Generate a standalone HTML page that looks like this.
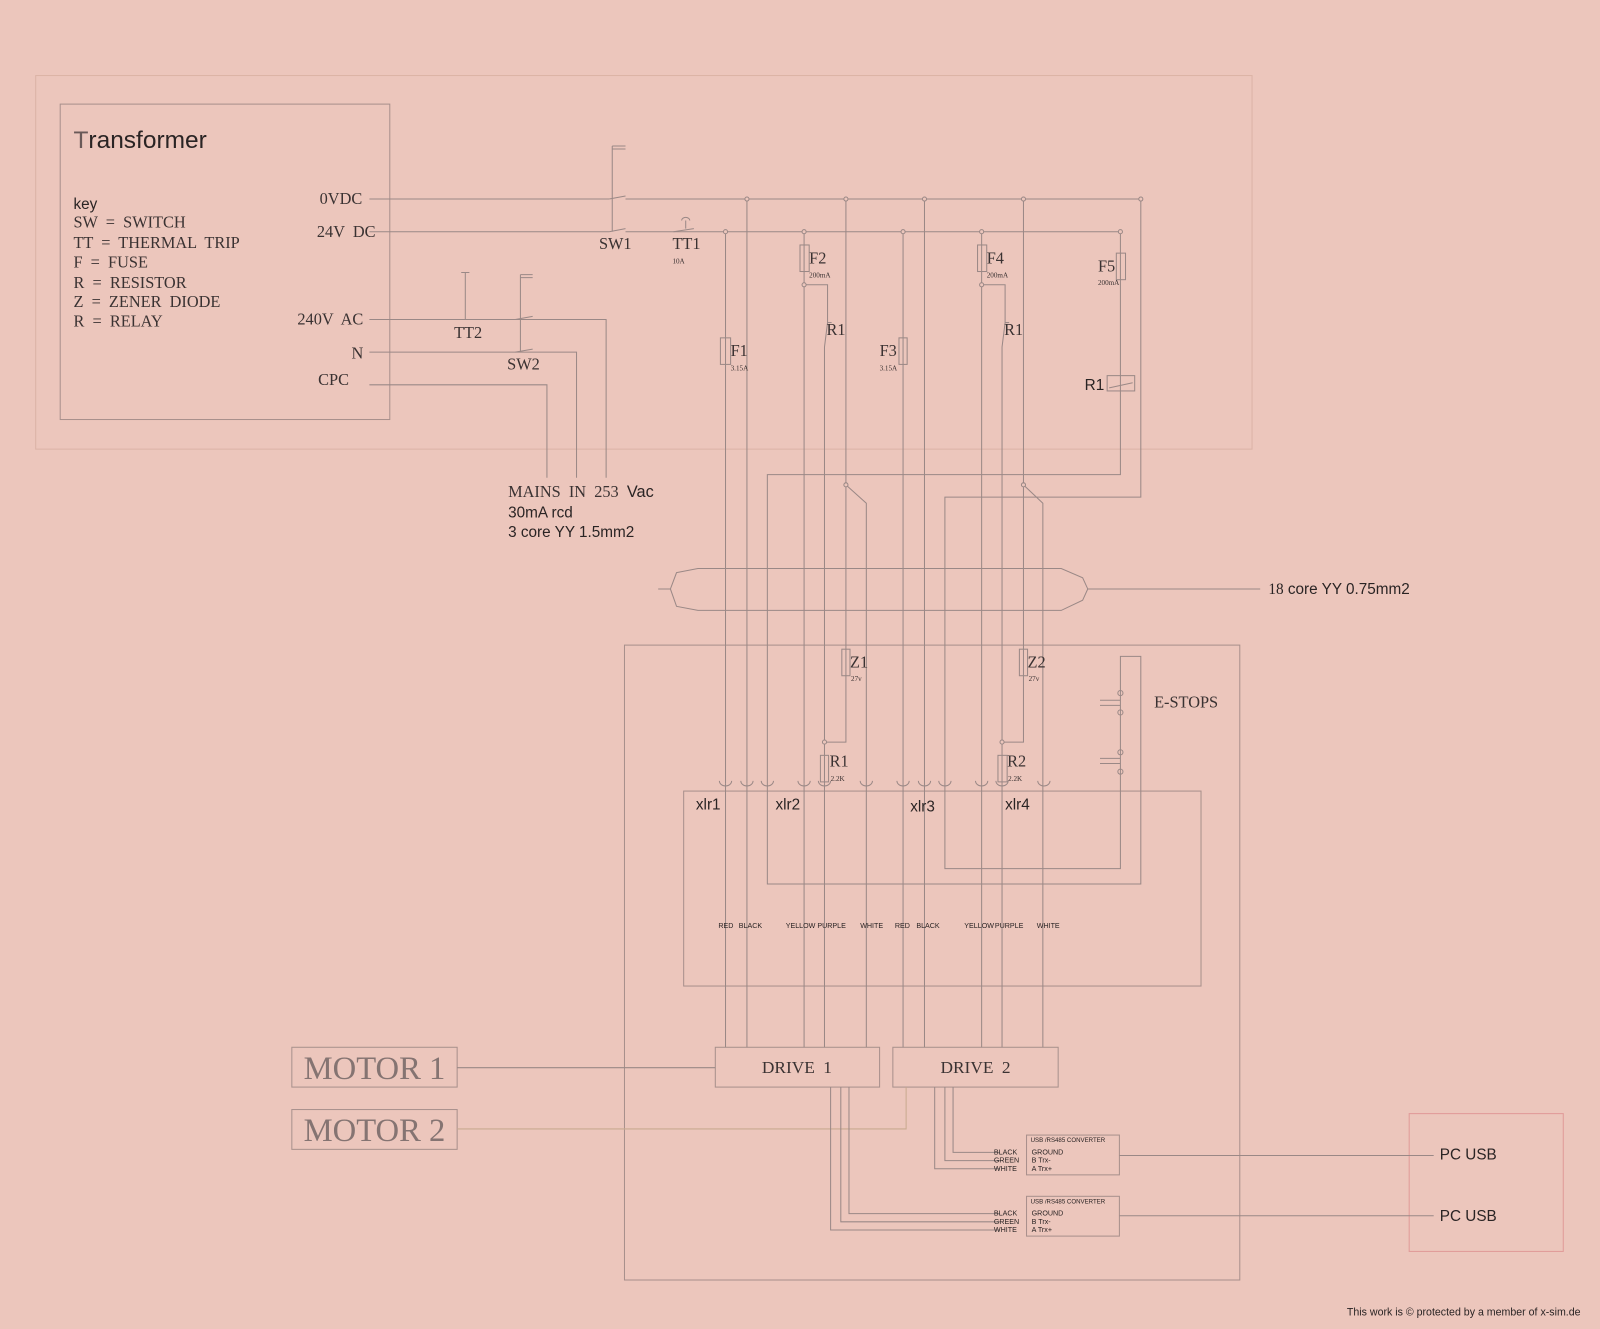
<!DOCTYPE html>
<html><head><meta charset="utf-8"><style>
html,body{margin:0;padding:0;background:#ecc6bc;}
svg{display:block}
.s{font-family:"Liberation Serif",serif;fill:#3a3232}
.a{font-family:"Liberation Sans",sans-serif;fill:#2a2424}
</style></head><body>
<svg width="1600" height="1329" viewBox="0 0 1568 1302" preserveAspectRatio="none" xmlns="http://www.w3.org/2000/svg">
<rect width="1568" height="1302" fill="#ecc6bc"/>
<g fill="none" stroke="#dbb3a6" stroke-width="1">
<rect x="35" y="74" width="1192" height="366"/>
</g>
<g fill="none" stroke="#a8908c" stroke-width="1">
<rect x="59" y="102" width="323" height="309"/>
<rect x="612" y="632" width="603" height="622"/>
<rect x="670" y="775" width="507" height="191"/>
<rect x="701" y="1026" width="161" height="39"/>
<rect x="875" y="1026" width="162" height="39"/>
<rect x="286" y="1026" width="162" height="39"/>
<rect x="286" y="1087" width="162" height="39"/>
<rect x="1006" y="1112" width="91" height="39"/>
<rect x="1006" y="1172" width="91" height="39"/>
</g>
<rect x="1381" y="1091" width="151" height="135" fill="none" stroke="#e09a98"/>
<g fill="none" stroke="#9a8886" stroke-width="1">
<path d="M362 195H597 M613 195H1118 M362 227H597 M613 227H1098"/>
<path d="M600 143V227 M600 143H613 M600 146H613 M597 195L613 192 M597 227L613 224"/>
<path d="M668 216a4 3 0 0 1 8 0 M672 216V224 M660 227L680 224"/>
<path d="M362 313H594V468 M362 345H565V468 M362 377H536V468"/>
<path d="M456 267V313 M452 267H460 M510 269V345 M510 269H522 M510 272H522 M505 313L522 310 M505 345L522 342"/>
<path d="M711 227V768 M732 195V768"/>
<rect x="706" y="331" width="10" height="26"/>
<path d="M788 227V768"/>
<rect x="784" y="240" width="9" height="26"/>
<path d="M788 279H811V316L808 340V768"/>
<path d="M811 316H815"/>
<path d="M829 195V727H808 M829 475L849 493V1026"/>
<rect x="825" y="636" width="8" height="26"/>
<rect x="804" y="740" width="8" height="26"/>
<path d="M885 227V1026 M906 195V1026"/>
<rect x="881" y="331" width="8" height="26"/>
<path d="M962 227V1026"/>
<rect x="958" y="240" width="9" height="26"/>
<path d="M962 279H985V316L982 340V1026 M985 316H989"/>
<path d="M1003 195V727H982 M1003 475L1022 493V1026"/>
<rect x="999" y="636" width="8" height="26"/>
<rect x="978" y="740" width="9" height="26"/>
<path d="M1098 227V465H752V866H1118V643H1098V851H926V487H1118V195"/>
<rect x="1094" y="248" width="9" height="26"/>
<rect x="1085" y="368" width="27" height="15"/>
<path d="M1087 380L1110 375"/>
<path d="M711 768V1026 M732 768V1026 M788 768V1026 M808 768V1026"/>
<path d="M1078 686H1098 M1078 691H1098 M1078 743H1098 M1078 748H1098"/>
<circle cx="1098" cy="679" r="2.5"/><circle cx="1098" cy="698" r="2.5"/>
<circle cx="1098" cy="737" r="2.5"/><circle cx="1098" cy="756" r="2.5"/>
<path d="M705 765a6 5 0 0 0 12 0 M726 765a6 5 0 0 0 12 0 M746 765a6 5 0 0 0 12 0 M782 765a6 5 0 0 0 12 0 M802 765a6 5 0 0 0 12 0 M843 765a6 5 0 0 0 12 0 M879 765a6 5 0 0 0 12 0 M900 765a6 5 0 0 0 12 0 M920 765a6 5 0 0 0 12 0 M956 765a6 5 0 0 0 12 0 M976 765a6 5 0 0 0 12 0 M1017 765a6 5 0 0 0 12 0"/>
<path d="M663 561L684 557H1040L1061 566L1066 577L1061 588L1040 598H684L663 594L657 577Z M645 577H657 M1066 577H1235"/>
<path d="M448 1046H701"/>
<path d="M448 1106H888V1065" stroke="#c8aa90"/>
<path d="M814 1065V1205H980 M824 1065V1197H980 M832 1065V1189H980"/>
<path d="M916 1065V1145H980 M926 1065V1137H980 M934 1065V1129H980"/>
<path d="M1097 1132H1405 M1097 1191H1405"/>
</g>
<g fill="#ecc6bc" stroke="#9a8886">
<circle cx="732" cy="195" r="2"/><circle cx="829" cy="195" r="2"/><circle cx="906" cy="195" r="2"/><circle cx="1003" cy="195" r="2"/><circle cx="1118" cy="195" r="2"/>
<circle cx="711" cy="227" r="2"/><circle cx="788" cy="227" r="2"/><circle cx="885" cy="227" r="2"/><circle cx="962" cy="227" r="2"/><circle cx="1098" cy="227" r="2"/>
<circle cx="788" cy="279" r="2"/><circle cx="962" cy="279" r="2"/>
<circle cx="829" cy="475" r="2"/><circle cx="1003" cy="475" r="2"/>
<circle cx="808" cy="727" r="2"/><circle cx="982" cy="727" r="2"/>
</g>
<text x="72" y="145" class="a" font-size="24"><tspan fill="#6a5a58">T</tspan>ransformer</text>
<g class="s" font-size="16">
<text x="72" y="205" class="a" font-size="15">key</text>
<g word-spacing="4">
<text x="72" y="223">SW = SWITCH</text>
<text x="72" y="243">TT = THERMAL TRIP</text>
<text x="72" y="262">F = FUSE</text>
<text x="72" y="282">R = RESISTOR</text>
<text x="72" y="301">Z = ZENER DIODE</text>
<text x="72" y="320">R = RELAY</text>
</g>
<g text-anchor="end"><text x="355" y="200">0VDC</text><text x="368" y="232" word-spacing="4">24V DC</text><text x="356" y="318" word-spacing="4">240V AC</text><text x="356" y="351">N</text><text x="342" y="377">CPC</text></g>
<text x="587" y="244">SW1</text><text x="659" y="244">TT1</text>
<text x="445" y="331">TT2</text><text x="497" y="362">SW2</text>
<text x="793" y="258">F2</text><text x="967" y="258">F4</text><text x="1076" y="266">F5</text>
<text x="716" y="349">F1</text><text x="862" y="349">F3</text>
<text x="810" y="328">R1</text><text x="984" y="328">R1</text>
<text x="833" y="654">Z1</text><text x="1007" y="654">Z2</text>
<text x="813" y="751">R1</text><text x="987" y="751">R2</text>
<text x="1131" y="693">E-STOPS</text>
<text x="781" y="1051" font-size="17" text-anchor="middle" word-spacing="4">DRIVE 1</text>
<text x="956" y="1051" font-size="17" text-anchor="middle" word-spacing="4">DRIVE 2</text>
<text x="367" y="1057" font-size="32" text-anchor="middle" fill="#857472">MOTOR 1</text>
<text x="367" y="1118" font-size="32" text-anchor="middle" fill="#857472">MOTOR 2</text>
</g>
<g class="s" font-size="7">
<text x="659" y="258">10A</text><text x="793" y="272">200mA</text><text x="967" y="272">200mA</text><text x="1076" y="279">200mA</text>
<text x="716" y="363">3.15A</text><text x="862" y="363">3.15A</text>
<text x="834" y="667">27v</text><text x="1008" y="667">27v</text>
<text x="814" y="765">2.2K</text><text x="988" y="765">2.2K</text>
</g>
<text x="1063" y="382" class="a" font-size="15">R1</text>
<g class="a" font-size="15">
<text x="498" y="487" class="s" font-size="16" word-spacing="4">MAINS IN 253 <tspan class="a" font-family="Liberation Sans">Vac</tspan></text>
<text x="498" y="507">30mA rcd</text>
<text x="498" y="526">3 core YY 1.5mm2</text>
<text x="1243" y="582"><tspan font-family="Liberation Serif">18</tspan> core YY 0.75mm2</text>
<text x="682" y="793">xlr1</text><text x="760" y="793">xlr2</text><text x="892" y="795">xlr3</text><text x="985" y="793">xlr4</text>
<text x="1411" y="1136">PC USB</text><text x="1411" y="1196">PC USB</text>
</g>
<g class="a" font-size="7" fill="#4a4040">
<text x="704" y="909">RED</text><text x="724" y="909">BLACK</text><text x="770" y="909">YELLOW</text><text x="801" y="909">PURPLE</text><text x="843" y="909">WHITE</text>
<text x="877" y="909">RED</text><text x="898" y="909">BLACK</text><text x="945" y="909">YELLOW</text><text x="975" y="909">PURPLE</text><text x="1016" y="909">WHITE</text>
<text x="1010" y="1119" font-size="6">USB /RS485 CONVERTER</text>
<text x="1011" y="1131">GROUND</text><text x="1011" y="1139">B Trx-</text><text x="1011" y="1147">A Trx+</text>
<text x="974" y="1131">BLACK</text><text x="974" y="1139">GREEN</text><text x="974" y="1147">WHITE</text>
<text x="1010" y="1179" font-size="6">USB /RS485 CONVERTER</text>
<text x="1011" y="1191">GROUND</text><text x="1011" y="1199">B Trx-</text><text x="1011" y="1207">A Trx+</text>
<text x="974" y="1191">BLACK</text><text x="974" y="1199">GREEN</text><text x="974" y="1207">WHITE</text>
</g>
<text x="1320" y="1289" class="a" font-size="10.4" fill="#111">This work is © protected by a member of x-sim.de</text>
</svg>
</body></html>
